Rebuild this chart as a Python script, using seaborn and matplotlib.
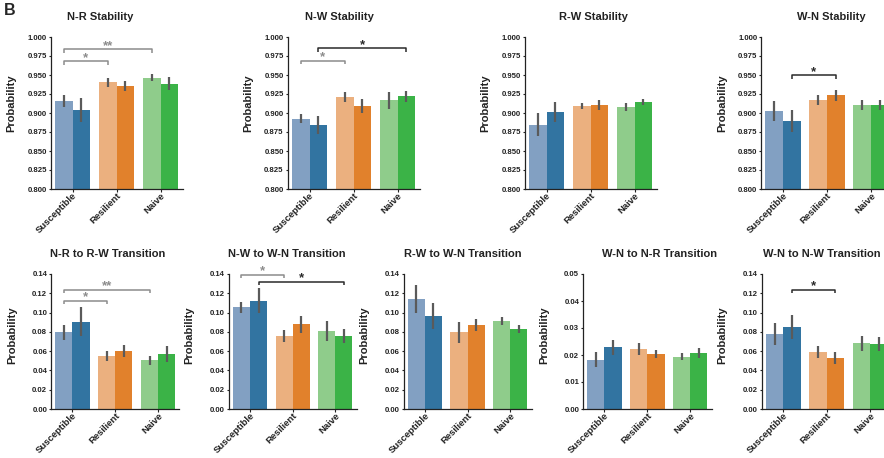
import numpy as np
import pandas as pd
import matplotlib
matplotlib.use('Agg')
import matplotlib.pyplot as plt
import matplotlib.transforms as mtransforms
import seaborn as sns

# groups and the two bars drawn inside each group (light, dark)
groups = ['Susceptible', 'Resilient', 'Naive']
conditions = ['first', 'second']

# values per panel, order: Sus light, Sus dark, Res light, Res dark, Naive light, Naive dark
nr_stab_mean = [0.9155, 0.9037, 0.9405, 0.9352, 0.9466, 0.9387]
nr_stab_err = [0.008, 0.0158, 0.006, 0.0066, 0.005, 0.0088]
nw_stab_mean = [0.8922, 0.8844, 0.9208, 0.9091, 0.9169, 0.9220]
nw_stab_err = [0.006, 0.012, 0.0065, 0.0093, 0.011, 0.0074]
rw_stab_mean = [0.8844, 0.9013, 0.9087, 0.9100, 0.9078, 0.9143]
rw_stab_err = [0.015, 0.013, 0.004, 0.0065, 0.005, 0.004]
wn_stab_mean = [0.9026, 0.8896, 0.9169, 0.9234, 0.9104, 0.9104]
wn_stab_err = [0.0134, 0.014, 0.007, 0.007, 0.007, 0.007]

nr_rw_mean = [0.0794, 0.0905, 0.0547, 0.0599, 0.0505, 0.0567]
nr_rw_err = [0.008, 0.015, 0.0054, 0.0064, 0.0049, 0.0082]
nw_wn_mean = [0.1053, 0.1125, 0.0755, 0.0878, 0.0810, 0.0755]
nw_wn_err = [0.0057, 0.0125, 0.0063, 0.009, 0.0101, 0.0074]
rw_wn_mean = [0.1142, 0.0964, 0.0797, 0.0870, 0.0912, 0.0828]
rw_wn_err = [0.0148, 0.0137, 0.011, 0.0064, 0.0042, 0.004]
wn_nr_mean = [0.0182, 0.0228, 0.0222, 0.0203, 0.0193, 0.0207]
wn_nr_err = [0.0028, 0.0029, 0.0022, 0.0014, 0.0013, 0.0019]
wn_nw_mean = [0.0776, 0.0849, 0.0590, 0.0528, 0.0683, 0.0673]
wn_nw_err = [0.0117, 0.0128, 0.0059, 0.006, 0.0079, 0.0074]

titles = ['N-R Stability', 'N-W Stability', 'R-W Stability', 'W-N Stability',
          'N-R to R-W Transition', 'N-W to W-N Transition', 'R-W to W-N Transition',
          'W-N to N-R Transition', 'W-N to N-W Transition']
means = [nr_stab_mean, nw_stab_mean, rw_stab_mean, wn_stab_mean,
         nr_rw_mean, nw_wn_mean, rw_wn_mean, wn_nr_mean, wn_nw_mean]
errs = [nr_stab_err, nw_stab_err, rw_stab_err, wn_stab_err,
        nr_rw_err, nw_wn_err, rw_wn_err, wn_nr_err, wn_nw_err]

# significance brackets: (group a, group b, bar 0=light/1=dark, y, label, gray?)
sig_marks = {
    0: [(0, 1, 0, 0.968, '*', True), (0, 2, 0, 0.984, '**', True)],
    1: [(0, 1, 0, 0.9688, '*', True), (0, 2, 1, 0.985, '*', False)],
    3: [(0, 1, 1, 0.9494, '*', False)],
    4: [(0, 1, 0, 0.1124, '*', True), (0, 2, 0, 0.1235, '**', True)],
    5: [(0, 1, 0, 0.139, '*', True), (0, 2, 1, 0.132, '*', False)],
    8: [(0, 1, 1, 0.1235, '*', False)],
}

light_colors = ['#82a0c2', '#ebb07f', '#8fcc8b']
dark_colors = ['#3274a1', '#e1812c', '#3bb347']

sns.set_style('ticks')
plt.rcParams['font.family'] = ['Liberation Sans', 'DejaVu Sans']
plt.rcParams['font.weight'] = 'bold'

W, H = 884, 458
fig = plt.figure(figsize=(W / 100, H / 100), dpi=100)

# axes boxes in pixels: left, top, width, height
top_boxes = [(50.5, 37, 132, 152), (287.5, 37, 132, 152), (524.5, 37, 132, 152), (761, 37, 132, 152)]
bot_boxes = [(51, 274, 128.5, 135), (228.7, 274, 128, 135), (403.5, 274, 128, 135),
             (583, 274, 128.7, 135), (761.5, 274, 130.5, 135)]
boxes = top_boxes + bot_boxes
title_x = [0.375, 0.39, 0.525, 0.53, 0.445, 0.455, 0.465, 0.596, 0.461]

for k, (title, m, e) in enumerate(zip(titles, means, errs)):
    l, t, w, h = boxes[k]
    ax = fig.add_axes([l / W, 1 - (t + h) / H, w / W, h / H])
    df = pd.DataFrame({
        'group': np.repeat(groups, 2),
        'cond': conditions * 3,
        'value': m,
        'err': e,
    })
    sns.barplot(data=df, x='group', y='value', hue='cond', hue_order=conditions,
                errorbar=None, width=0.8, linewidth=0, legend=False, ax=ax)

    centers = {}
    bar_conts = list(ax.containers)
    for ci, cont in enumerate(bar_conts):
        sub = df[df['cond'] == conditions[ci]]
        for gi, patch in enumerate(cont.patches):
            patch.set_facecolor(light_colors[gi] if ci == 0 else dark_colors[gi])
            patch.set_edgecolor('none')
            cx = patch.get_x() + patch.get_width() / 2
            centers[(gi, ci)] = cx
        xs = [p.get_x() + p.get_width() / 2 for p in cont.patches]
        ax.errorbar(xs, sub['value'].values, yerr=sub['err'].values, fmt='none',
                    ecolor='#5a5a5a', elinewidth=1.6, capsize=0, zorder=3)

    ax.set_xlim(-0.5, 2.5)
    if k < 4:
        ax.set_ylim(0.8, 1.0)
        ax.set_yticks(np.arange(0.8, 1.0001, 0.025))
        ax.yaxis.set_major_formatter(plt.FormatStrFormatter('%.3f'))
        ylab_y = 0.566
    elif title == 'W-N to N-R Transition':
        ax.set_ylim(0, 0.05)
        ax.set_yticks(np.arange(0, 0.0501, 0.01))
        ax.yaxis.set_major_formatter(plt.FormatStrFormatter('%.2f'))
        ylab_y = 0.545
    else:
        ax.set_ylim(0, 0.14)
        ax.set_yticks(np.arange(0, 0.1401, 0.02))
        ax.yaxis.set_major_formatter(plt.FormatStrFormatter('%.2f'))
        ylab_y = 0.545

    sns.despine(ax=ax)
    for s in ['left', 'bottom']:
        ax.spines[s].set_linewidth(0.9)
        ax.spines[s].set_color('#222222')
    ax.tick_params(axis='y', length=1.5, width=0.8, pad=1.2, labelsize=5.6, colors='#222222')
    ax.tick_params(axis='x', length=2.5, width=0.8, pad=1.5, labelsize=6.8, colors='#222222')
    for lab in ax.get_yticklabels():
        lab.set_fontweight('bold')
    offset = mtransforms.ScaledTranslation(3 / 100, 0, fig.dpi_scale_trans)
    for lab in ax.get_xticklabels():
        lab.set_rotation(45)
        lab.set_ha('right')
        lab.set_va('center')
        lab.set_rotation_mode('anchor')
        lab.set_fontweight('bold')
        lab.set_transform(lab.get_transform() + offset)

    ax.set_xlabel('')
    ax.set_ylabel('Probability', fontsize=8, fontweight='bold', color='#222222')
    ax.yaxis.set_label_coords(-34 / w, ylab_y)

    ax.text(title_x[k], 1 + 20 / h, title, transform=ax.transAxes, ha='center', va='center',
            fontsize=8, fontweight='bold', color='#222222')

    # significance brackets
    span = ax.get_ylim()[1] - ax.get_ylim()[0]
    drop = span * 3.5 / h
    for ga, gb, bar, y, txt, gray in sig_marks.get(k, []):
        col = '#8c8c8c' if gray else '#2a2a2a'
        x1, x2 = centers[(ga, bar)], centers[(gb, bar)]
        ax.plot([x1, x1, x2, x2], [y - drop, y, y, y - drop], color=col, lw=1.1,
                clip_on=False, solid_capstyle='butt')
        ax.text((x1 + x2) / 2, y + span * 0.3 / h, txt, ha='center', va='baseline',
                fontsize=9.5, fontweight='bold', color=col)

fig.text(4 / W, 1 - 3 / H, 'B', fontsize=11.5, fontweight='bold', ha='left', va='top')

fig.savefig('out.png', dpi=100, facecolor='white')
